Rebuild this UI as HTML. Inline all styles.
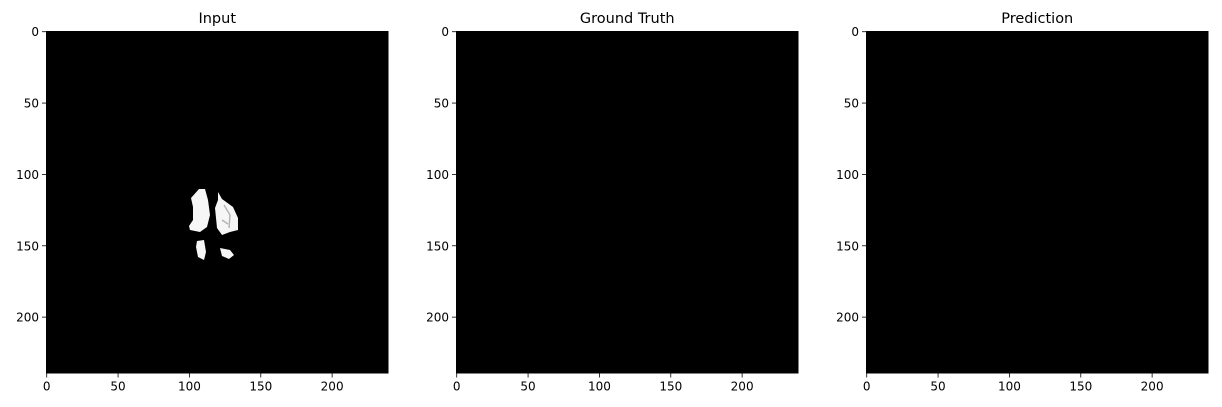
<!DOCTYPE html>
<html><head><meta charset="utf-8"><style>
html,body{margin:0;padding:0;background:#fff;}
svg{display:block;font-family:"DejaVu Sans","Liberation Sans",sans-serif;}
</style></head><body>
<svg id="fig" width="1222" height="407" viewBox="0 0 1222 407"></svg>
<script>
const ticks = [0, 50, 100, 150, 200];
const titles = ["Input", "Ground Truth", "Prediction"];
const imgSize = 240;
const panelLefts = [46, 456, 866];
const top0 = 31, size = 342.5;
const svg = document.getElementById('fig');
const NS = 'http://www.w3.org/2000/svg';
function mk(tag, attrs, parent) {
  const e = document.createElementNS(NS, tag);
  for (const k in attrs) e.setAttribute(k, attrs[k]);
  parent.appendChild(e);
  return e;
}
titles.forEach((t, i) => {
  const L = panelLefts[i];
  const sc = v => (v + 0.5) * size / imgSize;
  const g = mk('g', {}, svg);
  
  
  const r = mk('rect', {x: L, y: top0, width: size, height: size, fill: '#000'}, g);
  
  
  const tt = mk('text', {x: L + size / 2, y: 23, 'text-anchor': 'middle', 'font-size': 14.5, fill: '#000'}, g);
  tt.textContent = t;
  
  
  ticks.forEach(v => {
    const x = L + sc(v), y = top0 + sc(v);
    mk('line', {x1: x, x2: x, y1: top0 + size, y2: top0 + size + 4, stroke: '#000', 'stroke-width': 0.8}, g);
    const xl = mk('text', {x: x, y: top0 + size + 17, 'text-anchor': 'middle', 'font-size': 12}, g);
    xl.textContent = v;
    
    
    mk('line', {x1: L - 4, x2: L, y1: y, y2: y, stroke: '#000', 'stroke-width': 0.8}, g);
    const yl = mk('text', {x: L - 7, y: y + 4.5, 'text-anchor': 'end', 'font-size': 12}, g);
    yl.textContent = v;
    
    
  });
});
// blobs in input panel (pixel coords)
const blobs = [
  "199,189 205,189 208,200 210,215 207,227 200,232 190,230 189,226 193,220 193,207 191,198",
  "218,192 222,199 233,207 238,218 238,230 230,232 222,235 217,228 215,208 218,200",
  "197,241 204,240 206,252 204,260 198,257 196,247",
  "220,248 230,250 234,255 229,259 222,256"
];
blobs.forEach(p => {
  const b = mk('polygon', {points: p, fill: '#f6f6f6'}, svg);
  
  
});
mk('path', {d: 'M224,205 L230,215 L229,228 M222,220 L228,224', stroke: '#888', 'stroke-width': 1.5, fill: 'none', opacity: 0.6}, svg);
</script>
</body></html>
